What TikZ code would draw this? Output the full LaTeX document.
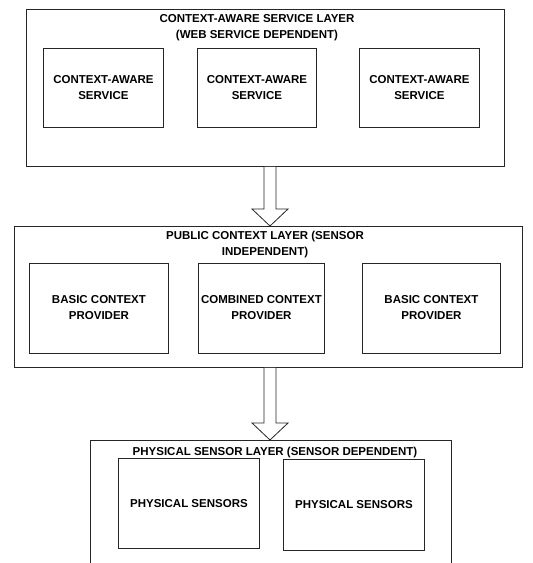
\documentclass[tikz,border=0pt]{standalone}
\usepackage{fontspec}
\setmainfont{Liberation Sans}
\usetikzlibrary{calc}
\begin{document}
\begin{tikzpicture}[x=1pt,y=-1pt,
  lbox/.style={draw=black!85,line width=0.9pt,inner sep=0pt,anchor=north west},
  txt/.style={font=\bfseries\fontsize{11.5}{16}\selectfont,align=center,inner sep=0pt},
  bigarrow/.style={draw=black!85,line width=0.8pt,fill=white,line join=miter}]
\useasboundingbox (0,0) rectangle (533,563);
\clip (0,0) rectangle (533,563);
% layer 1
\node[lbox,minimum width=478pt,minimum height=157pt] (L1) at (26,9) {};
\node[txt] (T1) at (257,28) {CONTEXT-AWARE SERVICE LAYER\\(WEB SERVICE DEPENDENT)};
\node[lbox,minimum width=120pt,minimum height=79pt] (S1) at (43,48) {};
\node[lbox,minimum width=119pt,minimum height=79pt] (S2) at (197,48) {};
\node[lbox,minimum width=120pt,minimum height=79pt] (S3) at (359,48) {};
\node[txt] (S1t) at (S1.center) {CONTEXT-AWARE\\SERVICE};
\node[txt] (S2t) at (S2.center) {CONTEXT-AWARE\\SERVICE};
\node[txt] (S3t) at (S3.center) {CONTEXT-AWARE\\SERVICE};
% layer 2
\node[lbox,minimum width=508pt,minimum height=141pt] (L2) at (14,226) {};
\node[txt] (T2) at (265,245) {PUBLIC CONTEXT LAYER (SENSOR\\INDEPENDENT)};
\node[lbox,minimum width=139pt,minimum height=90pt] (P1) at (29,263) {};
\node[lbox,minimum width=126pt,minimum height=90pt] (P2) at (198,263) {};
\node[lbox,minimum width=138pt,minimum height=90pt] (P3) at (362,263) {};
\node[txt] (P1t) at ($(P1.center)+(0,-1)$) {BASIC CONTEXT\\PROVIDER};
\node[txt] (P2t) at ($(P2.center)+(0,-1)$) {COMBINED CONTEXT\\PROVIDER};
\node[txt] (P3t) at ($(P3.center)+(0,-1)$) {BASIC CONTEXT\\PROVIDER};
% layer 3
\node[lbox,minimum width=361pt,minimum height=160pt] (L3) at (90,440) {};
\node[txt] (T3) at (275,452.5) {PHYSICAL SENSOR LAYER (SENSOR DEPENDENT)};
\node[lbox,minimum width=141pt,minimum height=90pt] (Q1) at (118,458) {};
\node[lbox,minimum width=141pt,minimum height=91pt] (Q2) at (283,459) {};
\node[txt] (Q1t) at (Q1.center) {PHYSICAL SENSORS};
\node[txt] (Q2t) at (Q2.center) {PHYSICAL SENSORS};
% arrows
\coordinate (A1s) at (L1.south -| 270,0);
\coordinate (A1e) at (L2.north -| 270,0);
\coordinate (A2s) at (L2.south -| 270,0);
\coordinate (A2e) at (L3.north -| 270,0);
\draw[bigarrow] ($(A1s)+(-6,0)$) -- ($(A1e)+(-6,-17)$) -- ($(A1e)+(-18,-17)$) -- (A1e)
  -- ($(A1e)+(18,-17)$) -- ($(A1e)+(6,-17)$) -- ($(A1s)+(6,0)$);
\draw[bigarrow] ($(A2s)+(-6,0)$) -- ($(A2e)+(-6,-17)$) -- ($(A2e)+(-18,-17)$) -- (A2e)
  -- ($(A2e)+(18,-17)$) -- ($(A2e)+(6,-17)$) -- ($(A2s)+(6,0)$);
\end{tikzpicture}
\end{document}
